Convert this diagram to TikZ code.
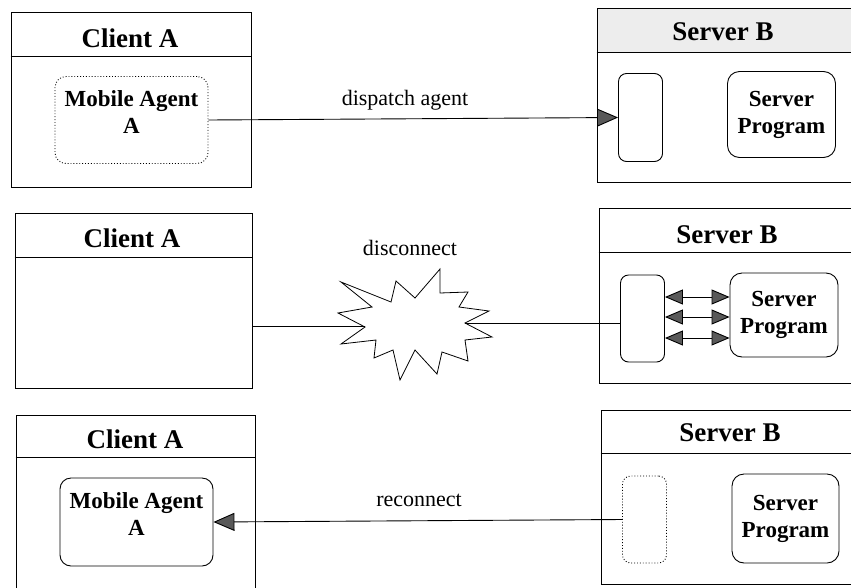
\documentclass[tikz,border=0pt]{standalone}
\usepackage{fontspec}
\setmainfont{Liberation Serif}
\usetikzlibrary{arrows.meta}
\begin{document}
\begin{tikzpicture}[x=1pt,y=-1pt,
  frame/.style={draw, line width=0.9pt, rectangle, inner sep=0pt},
  hline/.style={line width=0.9pt},
  title/.style={font=\fontsize{27}{30}\selectfont\bfseries, inner sep=0pt},
  agent/.style={draw, line width=0.9pt, rounded corners=11pt, inner sep=0pt, align=center,
    font=\fontsize{23}{27}\selectfont\bfseries},
  slot/.style={draw, line width=0.9pt, rounded corners=8pt, inner sep=0pt,
    minimum width=44pt, minimum height=88pt},
  prog/.style={draw, line width=0.9pt, rounded corners=12pt, inner sep=0pt, align=center,
    minimum width=108pt, minimum height=86pt, font=\fontsize{23}{27}\selectfont\bfseries},
  lbl/.style={font=\fontsize{22}{26}\selectfont, inner sep=0pt},
  conn/.style={line width=0.9pt},
  tip/.style={-{Triangle[length=21pt,width=18pt,fill=black!65]}},
  dtip/.style={{Triangle[length=18pt,width=15pt,fill=black!65]}-{Triangle[length=18pt,width=15pt,fill=black!65]}}
]
\clip (0,0) rectangle (851,587);
\fill[white] (0,0) rectangle (851,587);

% ---------- Row 1 ----------
\fill[black!7] (597,8) rectangle (851,52);
\node[frame, minimum width=240pt, minimum height=175pt] (c1) at (131,99.5) {};
\draw[hline] (c1.west |- 0,56) -- (c1.east |- 0,56);
\node[title] (c1t) at (130,38) {Client A};
\node[agent, dotted, minimum width=153pt, minimum height=87pt, text depth=16pt] (ma1) at (131.5,120) {Mobile Agent\\A};

\node[frame, minimum width=303pt, minimum height=174pt] (s1) at (748.5,95) {};
\draw[hline] (s1.west |- 0,52) -- (s1.east |- 0,52);
\node[title] (s1t) at (723,32) {Server B};
\node[slot] (si1) at (640.5,117.5) {};
\node[prog] (sp1) at (781.5,114.5) {Server\\Program};

\draw[conn, tip] (ma1.east) -- (si1.west);
\node[lbl] (l1) at (405,100) {dispatch agent};

% ---------- Row 2 ----------
\node[frame, minimum width=237pt, minimum height=175pt] (c2) at (133.5,300.5) {};
\draw[hline] (c2.west |- 0,257) -- (c2.east |- 0,257);
\node[title] (c2t) at (132,238) {Client A};

\node[frame, minimum width=301pt, minimum height=175pt] (s2) at (749.5,295.5) {};
\draw[hline] (s2.west |- 0,252) -- (s2.east |- 0,252);
\node[title] (s2t) at (727,235) {Server B};
\node[slot, minimum height=87pt] (si2) at (642.5,318.5) {};
\node[prog, minimum height=84pt] (sp2) at (784,315) {Server\\Program};

\draw[conn, dtip] (si2.east |- 0,297) -- (sp2.west |- 0,297);
\draw[conn, dtip] (si2.east |- 0,317) -- (sp2.west |- 0,317);
\draw[conn, dtip] (si2.east |- 0,338) -- (sp2.west |- 0,338);

\draw[line width=0.8pt, fill=white]
  (341,282) -- (391,302) -- (396,281) -- (415,298) -- (440,269) -- (440,293)
  -- (468,292) -- (459,307) -- (489,311) -- (465,323) -- (492,337) -- (465,340)
  -- (468,361) -- (442,352) -- (437,374) -- (415,350) -- (400,380) -- (393,350)
  -- (374,358) -- (376,340) -- (341,344) -- (365,327) -- (338,313) -- (372,307) -- cycle;
\coordinate (bl) at (365,326);
\coordinate (br) at (465,323);
\draw[conn] (c2.east |- bl) -- (bl);
\draw[conn] (br) -- (si2.west |- br);
\node[lbl] (l2) at (410,248) {disconnect};

% ---------- Row 3 ----------
\node[frame, minimum width=239pt, minimum height=200pt] (c3) at (135.5,515) {};
\draw[hline] (c3.west |- 0,457) -- (c3.east |- 0,457);
\node[title] (c3t) at (135,439) {Client A};
\node[agent, minimum width=153pt, minimum height=88pt, text depth=16pt] (ma3) at (136.5,522) {Mobile Agent\\A};

\node[frame, minimum width=299pt, minimum height=174pt] (s3) at (750.5,497) {};
\draw[hline] (s3.west |- 0,453) -- (s3.east |- 0,453);
\node[title] (s3t) at (730,433) {Server B};
\node[slot, dotted, minimum height=87pt] (si3) at (644.5,519.5) {};
\node[prog, minimum width=107pt, minimum height=89pt] (sp3) at (785.5,518.5) {Server\\Program};

\draw[conn, tip] (si3.west) -- (ma3.east);
\node[lbl] (l3) at (419,500) {reconnect};
\end{tikzpicture}
\end{document}
